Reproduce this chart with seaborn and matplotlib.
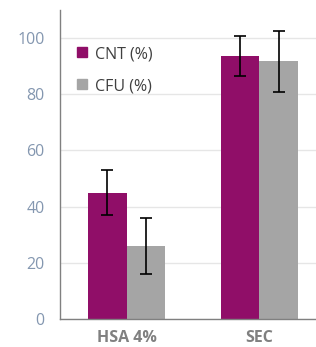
import matplotlib
matplotlib.use("Agg")
import matplotlib.pyplot as plt
from matplotlib.ticker import FixedLocator
import numpy as np
import pandas as pd
import seaborn as sns

categories = ["HSA 4%", "SEC"]
series = ["CNT (%)", "CFU (%)"]
cnt_values = [45, 93.6]
cfu_values = [26, 91.7]
cnt_err = [8, 7]
cfu_err = [10, 11]

colors = ["#900E68", "#A5A5A5"]

df = pd.DataFrame({
    "category": categories * 2,
    "series": [series[0]] * 2 + [series[1]] * 2,
    "value": cnt_values + cfu_values,
    "err": cnt_err + cfu_err,
})

sns.set_style("white")
plt.rcParams["font.family"] = ["Open Sans", "DejaVu Sans"]

fig = plt.figure(figsize=(3.16, 3.47), dpi=100)
ax = fig.add_axes([0.19, 0.081, 0.81, 0.89])

sns.barplot(data=df, x="category", y="value", hue="series", palette=colors,
            width=0.576, gap=0, errorbar=None, saturation=1, ax=ax, zorder=2,
            edgecolor="none", linewidth=0)

# error bars on each bar, positions taken from the drawn patches
for container, s in zip(ax.containers, series):
    errs = df[df["series"] == s]["err"].to_numpy()
    for bar, e in zip(container, errs):
        xc = bar.get_x() + bar.get_width() / 2
        ax.errorbar(xc, bar.get_height(), yerr=e, fmt="none", ecolor="black",
                    elinewidth=1.2, capsize=4, capthick=1.2, zorder=3)

ax.set_ylim(0, 110)
ax.set_xlim(-0.5, 1.425)
ax.set_yticks([0, 20, 40, 60, 80, 100])
ax.yaxis.grid(True, color="#E6E6E6", linewidth=1)
ax.set_axisbelow(True)

ax.xaxis.set_minor_locator(FixedLocator([0.5, 1.5]))
ax.tick_params(axis="x", which="major", length=0, pad=8)
ax.tick_params(axis="x", which="minor", length=5, color="#808080", width=1)
ax.tick_params(axis="y", length=5, color="#808080", width=1, labelsize=11.5,
               labelcolor="#8497B0", pad=6)
for lbl in ax.get_xticklabels():
    lbl.set_fontweight("bold")
    lbl.set_color("#808080")
    lbl.set_fontsize(11.5)

for side in ["top", "right"]:
    ax.spines[side].set_visible(False)
for side in ["left", "bottom"]:
    ax.spines[side].set_color("#808080")
    ax.spines[side].set_linewidth(1)

ax.set_xlabel("")
ax.set_ylabel("")

handles = [plt.Line2D([], [], marker="s", linestyle="none", markersize=7,
                      markerfacecolor=c, markeredgecolor=c) for c in colors]
leg = ax.legend(handles, series, loc="upper left", bbox_to_anchor=(0.0, 0.93),
                frameon=False, fontsize=11.5, handletextpad=0.3,
                labelspacing=1.0, handlelength=1.0)
for t in leg.get_texts():
    t.set_color("#404040")

fig.savefig("out.png", dpi=100)
